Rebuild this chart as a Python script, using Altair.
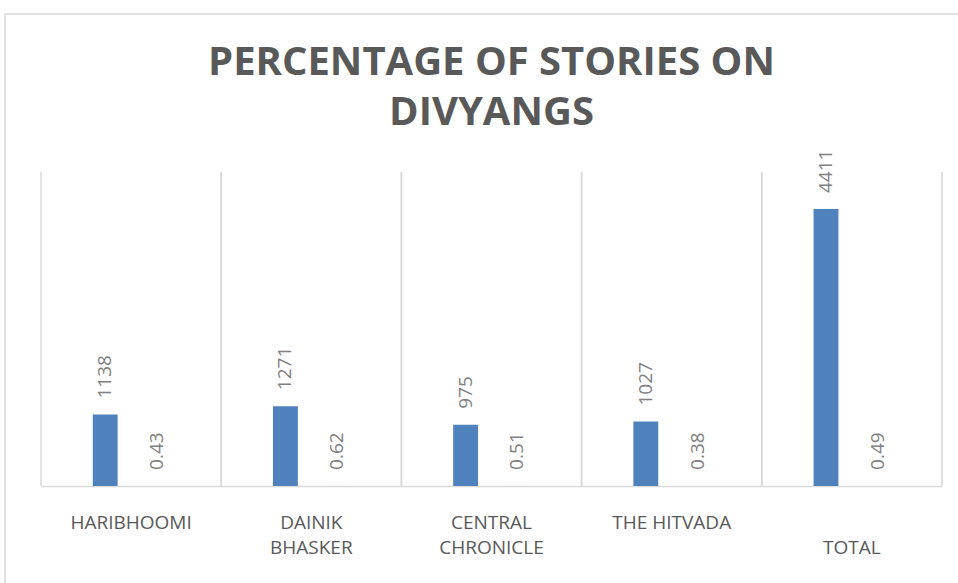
import altair as alt
import pandas as pd

papers = ["HARIBHOOMI", "DAINIK BHASKER", "CENTRAL CHRONICLE", "THE HITVADA", "TOTAL"]
stories = [1138, 1271, 975, 1027, 4411]
percent = [0.43, 0.62, 0.51, 0.38, 0.49]
series = ["Stories", "Percentage"]
title_lines = ["PERCENTAGE OF STORIES ON", "DIVYANGS"]

rows = []
for p, s, pc in zip(papers, stories, percent):
    rows.append({"paper": p, "series": "Stories", "value": s, "label": str(s)})
    rows.append({"paper": p, "series": "Percentage", "value": pc, "label": f"{pc:.2f}"})
df = pd.DataFrame(rows)
papers_df = pd.DataFrame({"paper": papers})

W, H = 901, 314
GRID = "#d9d9d9"
BLUE = "#4F81BD"

label_expr = (
    "datum.value == 'DAINIK BHASKER' ? ['DAINIK', 'BHASKER'] : "
    "datum.value == 'CENTRAL CHRONICLE' ? ['CENTRAL', 'CHRONICLE'] : "
    "datum.value == 'TOTAL' ? [' ', 'TOTAL'] : datum.value"
)

xscale = alt.Scale(domain=papers, paddingInner=0, paddingOuter=0)
xaxis = alt.Axis(
    title=None, labelAngle=0, labelExpr=label_expr, labelFont="Open Sans",
    labelFontSize=19, labelColor="#595959", labelPadding=42, labelLineHeight=25,
    labelBaseline="alphabetic", ticks=False, grid=False, domainColor=GRID, domainWidth=1.5,
)
yenc = alt.Y("value:Q", scale=alt.Scale(domain=[0, 5000]), axis=None)
xoff = alt.XOffset("series:N", scale=alt.Scale(domain=series, paddingInner=0.52, paddingOuter=1))

base = alt.Chart(df)

bars = base.mark_bar(color=BLUE).encode(
    x=alt.X("paper:N", scale=xscale, axis=xaxis),
    xOffset=xoff,
    y=yenc,
)

labels = base.mark_text(
    angle=270, align="left", baseline="middle", dx=16,
    font="Open Sans", fontSize=19, color="#808080",
).encode(
    x=alt.X("paper:N", scale=xscale, axis=xaxis),
    xOffset=xoff,
    y=yenc,
    text="label:N",
)

grid_left = alt.Chart(papers_df).mark_rule(color=GRID, strokeWidth=1.5).encode(
    x=alt.X("paper:N", scale=xscale, axis=xaxis, bandPosition=0),
    y=alt.value(0), y2=alt.value(H),
)
grid_right = alt.Chart(papers_df).mark_rule(color=GRID, strokeWidth=1.5).encode(
    x=alt.X("paper:N", scale=xscale, axis=xaxis, bandPosition=1),
    y=alt.value(0), y2=alt.value(H),
)

one = pd.DataFrame({"k": [0]})
border = alt.Chart(one).mark_rect(
    filled=False, stroke=GRID, strokeWidth=1.5
).encode(
    x=alt.value(-36), x2=alt.value(W + 80), y=alt.value(-158), y2=alt.value(H + 160),
)

title = alt.Chart(one).mark_text(
    font="Open Sans", fontSize=40, fontWeight="bold", color="#595959",
    align="center", baseline="alphabetic", lineHeight=50,
).encode(
    x=alt.value(W / 2), y=alt.value(-97), text=alt.value(title_lines),
)

chart = alt.layer(border, grid_left, grid_right, bars, labels, title).properties(
    width=W, height=H,
    autosize=alt.AutoSizeParams(type="none"),
    padding={"left": 41, "top": 172, "right": 16, "bottom": 97},
).configure(background="white", view=alt.ViewConfig(stroke=None))

chart.save("out.html", embed_options={"renderer": "svg", "actions": False})
